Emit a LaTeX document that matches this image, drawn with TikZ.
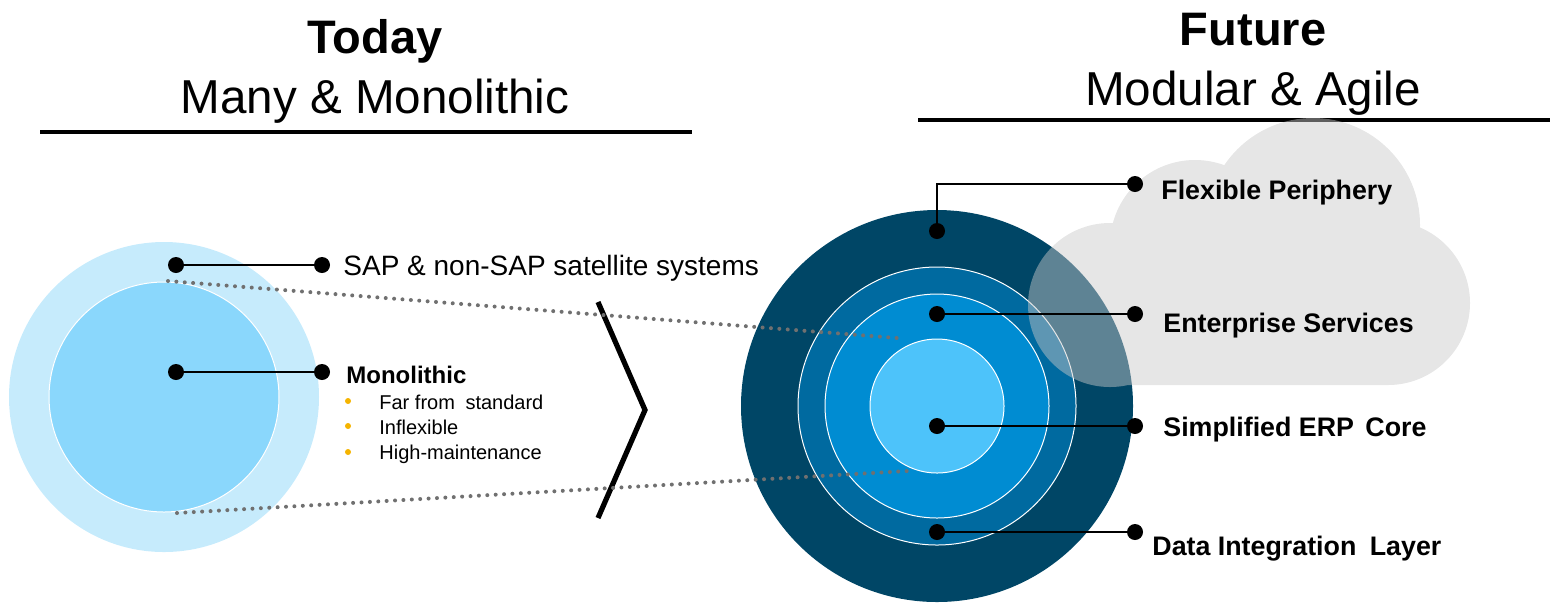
\documentclass[tikz,border=0pt]{standalone}
\usepackage{fontspec}
\setmainfont{Liberation Sans}
\definecolor{leftouter}{RGB}{198,235,252}
\definecolor{leftinner}{RGB}{138,215,252}
\definecolor{ringA}{RGB}{0,70,102}
\definecolor{ringB}{RGB}{0,106,160}
\definecolor{ringC}{RGB}{0,140,210}
\definecolor{ringD}{RGB}{77,195,250}
\definecolor{cloudgray}{RGB}{201,201,201}
\definecolor{dotgray}{RGB}{112,112,112}
\definecolor{bulletorange}{RGB}{245,180,0}
\begin{document}
\begin{tikzpicture}[x=0.5pt,y=-0.5pt,
  dotnode/.style={circle,fill=black,inner sep=0pt,minimum size=8pt},
  conn/.style={line width=1.35pt},
  dotline/.style={draw=dotgray,line width=2pt,line cap=round,dash pattern=on 0pt off 4.2pt},
  titlebold/.style={inner sep=0pt,anchor=base,font=\fontsize{23.5}{28}\selectfont\bfseries},
  titlereg/.style={inner sep=0pt,anchor=base,font=\fontsize{23.8}{28}\selectfont},
  rlabel/.style={inner sep=0pt,anchor=base west,font=\fontsize{13.4}{16}\selectfont\bfseries},
  bultext/.style={inner sep=0pt,anchor=base west,font=\fontsize{10}{12}\selectfont},
  bulletdot/.style={circle,fill=bulletorange,inner sep=0pt,minimum size=3pt},
  ruleline/.style={line width=2.2pt}]
\useasboundingbox (0,0) rectangle (1550,602);

% titles
\node[titlebold] (today) at (375,53) {Today};
\node[titlereg] (many) at (375,113) {Many \& Monolithic};
\node[titlebold] (future) at (1253,45) {Future};
\node[titlereg] (modular) at (1253,105) {Modular \& Agile};
\coordinate (rl1) at (40,132);
\coordinate (rl2) at (692,132);
\coordinate (rr1) at (918,120);
\coordinate (rr2) at (1550,120);
\draw[ruleline] (rl1) -- (rl2);
\draw[ruleline] (rr1) -- (rr2);

% left circles
\fill[leftouter] (164,397) circle[radius=77.5pt];
\filldraw[fill=leftinner,draw=white,line width=0.5pt] (164,397) circle[radius=57.5pt];

% chevron
\coordinate (chA) at (598,302);
\coordinate (chB) at (645,410);
\coordinate (chC) at (598,518);
\draw[line width=2.6pt] (chA) -- (chB) -- (chC);

% right circles
\fill[ringA] (937,406) circle[radius=98pt];
\filldraw[fill=ringB,draw=white,line width=0.5pt] (937,406) circle[radius=69.5pt];
\filldraw[fill=ringC,draw=white,line width=0.5pt] (937,406) circle[radius=56pt];
\filldraw[fill=ringD,draw=white,line width=0.5pt] (937,406) circle[radius=33.5pt];

% cloud (single path, same orientation -> union)
\fill[cloudgray,fill opacity=0.47]
  (1192,305) arc[start angle=0,end angle=360,radius=41pt]
  (1280,245) arc[start angle=0,end angle=360,radius=42.5pt]
  (1420,225) arc[start angle=0,end angle=360,radius=53.5pt]
  (1470,303) arc[start angle=0,end angle=360,radius=41pt]
  (1110,385) -- (1388,385) -- (1388,230) -- (1110,230) -- cycle;

% dotted projection lines
\coordinate (pt1) at (168,281);
\coordinate (pt2) at (897,338);
\coordinate (pb1) at (177,513);
\coordinate (pb2) at (907,471);
\draw[dotline] (pt1) -- (pt2);
\draw[dotline] (pb1) -- (pb2);

% left connectors
\node[dotnode] (sap1) at (176,265) {};
\node[dotnode] (sap2) at (322,265) {};
\draw[conn] (sap1) -- (sap2);
\node[dotnode] (mon1) at (176,372) {};
\node[dotnode] (mon2) at (322,372) {};
\draw[conn] (mon1) -- (mon2);
\node[inner sep=0pt,anchor=base west,font=\fontsize{14}{17}\selectfont] (saptext) at (343,275) {SAP \& non-SAP satellite systems};
\node[inner sep=0pt,anchor=base west,font=\fontsize{12}{14}\selectfont\bfseries] (montext) at (346,383) {Monolithic};
\node[bulletdot] (b1) at (348,401) {};
\node[bulletdot] (b2) at (348,426) {};
\node[bulletdot] (b3) at (348,452) {};
\node[bultext] (t1) at (379,409) {Far from\hspace{2.5pt} standard};
\node[bultext] (t2) at (379,434) {Inflexible};
\node[bultext] (t3) at (379,459) {High-maintenance};

% right connectors
\node[dotnode] (fp1) at (937,231) {};
\node[dotnode] (fp2) at (1135,184) {};
\draw[conn] (fp1.center) |- (fp2);
\node[dotnode] (es1) at (937,314) {};
\node[dotnode] (es2) at (1135,314) {};
\draw[conn] (es1) -- (es2);
\node[dotnode] (erp1) at (937,426) {};
\node[dotnode] (erp2) at (1135,426) {};
\draw[conn] (erp1) -- (erp2);
\node[dotnode] (dil1) at (937,532) {};
\node[dotnode] (dil2) at (1135,532) {};
\draw[conn] (dil1) -- (dil2);
\node[rlabel] (fptext) at (1161,199) {Flexible Periphery};
\node[rlabel] (estext) at (1163,332) {Enterprise Services};
\node[rlabel] (erptext) at (1163,436) {Simplified ERP\hspace{2pt} Core};
\node[rlabel] (diltext) at (1152,555) {Data Integration\hspace{3pt} Layer};
\end{tikzpicture}
\end{document}
